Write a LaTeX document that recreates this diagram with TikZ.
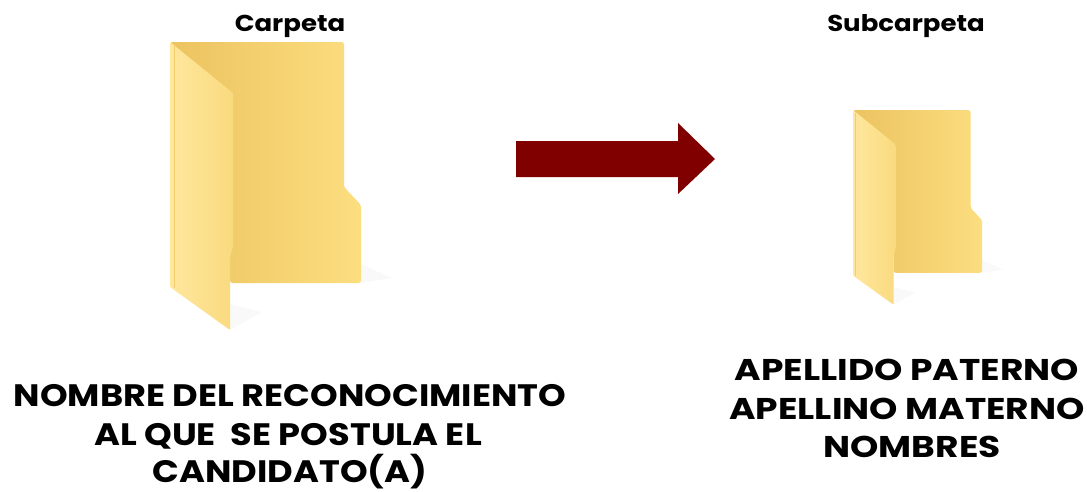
\documentclass[tikz,border=0pt]{standalone}
\usepackage{fontspec}
\setmainfont{Poppins}
\newfontfamily\headfont{Poppins}[FakeStretch=1.13]
\newfontfamily\leftfont{Poppins}[FakeStretch=1.135]
\newfontfamily\rightfont{Poppins}[FakeStretch=1.2]
\definecolor{backL}{RGB}{236,195,96}
\definecolor{backR}{RGB}{252,222,128}
\definecolor{frontL}{RGB}{255,231,158}
\definecolor{frontR}{RGB}{249,218,126}
\definecolor{edgeC}{RGB}{240,205,110}
\definecolor{arrowC}{RGB}{128,0,0}
\tikzset{
  folder/.pic={
    % soft shadows
    \fill[black,opacity=0.025] (191,222) -- (222,236) -- (191,241) -- cycle;
    \fill[black,opacity=0.025] (60,288) -- (60,262) -- (92,270) -- cycle;
    % back panel
    \path[left color=backL,right color=backR,rounded corners=2.5pt]
      (0,0) -- (174,0) -- (174,145) -- (191,163) -- (191,241) -- (60,241) -- (60,100) -- cycle;
    % front panel
    \path[left color=frontL,right color=frontR,rounded corners=1.2pt]
      (0,0) -- (63,51) -- (63,205) -- (60,215) -- (60,288) -- (0,245) -- cycle;
    \draw[edgeC,line width=0.8pt] (4,4) -- (4,246);
    \draw[edgeC!60,line width=0.6pt] (7,6) -- (7,248);
  },
  heading/.style={font=\headfont\bfseries\fontsize{23}{26}\selectfont,inner sep=0pt,anchor=base},
  lefttext/.style={font=\leftfont\bfseries\fontsize{31}{38}\selectfont,inner sep=0pt,anchor=base},
  righttext/.style={font=\rightfont\bfseries\fontsize{30}{38}\selectfont,inner sep=0pt,anchor=base},
}
\begin{document}
\begin{tikzpicture}[x=1pt,y=-1pt]
\useasboundingbox (0,0) rectangle (1087,491);
\fill[white] (0,0) rectangle (1087,491);
\pic (bigfolder) at (170,42) {folder};
\pic[scale=0.676] (smallfolder) at (853,110) {folder};
\node[heading] (carpeta) at (290,31) {Carpeta};
\node[heading] (subcarpeta) at (906,31) {Subcarpeta};
\fill[arrowC] (516,141) -- (678,141) -- (678,123) -- (715,159) -- (678,194) -- (678,177) -- (516,177) -- cycle;
\node[lefttext] (leftlabelA) at (290,406.5) {NOMBRE DEL RECONOCIMIENTO};
\node[lefttext] (leftlabelB) at (288,445) {AL QUE\ \ SE POSTULA EL};
\node[lefttext] (leftlabelC) at (290,482.5) {CANDIDATO(A)};
\node[righttext] (rightlabelA) at (907,380) {APELLIDO PATERNO};
\node[righttext] (rightlabelB) at (907,419) {APELLINO MATERNO};
\node[righttext] (rightlabelC) at (912,457.5) {NOMBRES};
\end{tikzpicture}
\end{document}
